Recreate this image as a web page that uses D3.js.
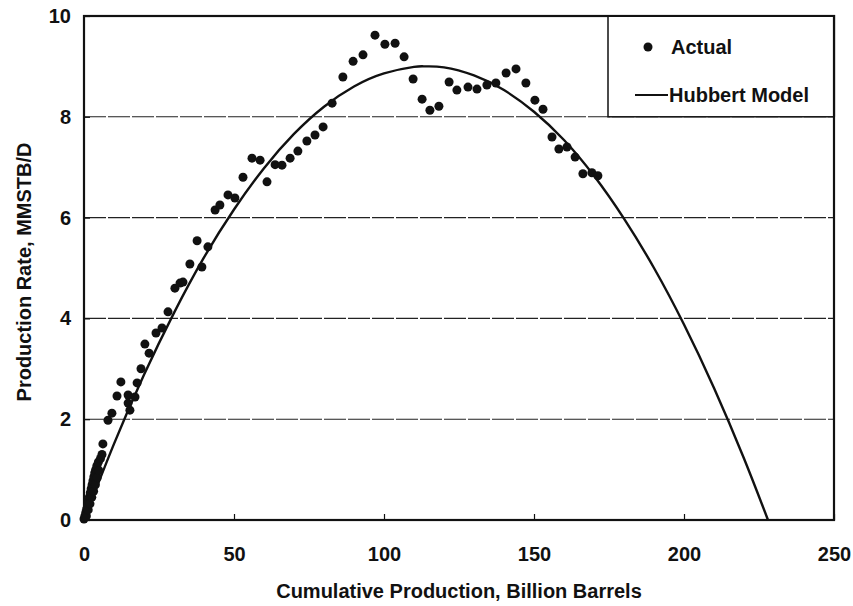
<!DOCTYPE html>
<html>
<head>
<meta charset="utf-8">
<script src="https://cdn.jsdelivr.net/npm/d3@7"></script>
<style>
  html, body { margin: 0; padding: 0; background: #fff; }
  svg { display: block; }
  text { font-family: "Liberation Sans", Arial, Helvetica, sans-serif; font-weight: bold; fill: #111; }
</style>
</head>
<body>
<svg id="chart" width="853" height="606"></svg>
<script>
// Cumulative production (billion barrels) and production rate (MMSTB/D) of the actual history
const actualCumulative = [
  0.0, 0.3, 0.6, 0.9, 1.2, 1.5, 1.8, 2.1, 2.4, 2.7, 3.0, 3.3, 3.6, 3.9, 4.3, 4.8, 5.5, 6.0,
  0.8, 1.4, 2.0, 2.6, 3.2, 3.8, 4.4, 5.0,
  6.3, 8.0, 9.3, 11.0, 12.3, 14.7, 14.7, 15.3, 17.0, 17.7, 19.0, 20.3, 21.7, 24.0, 26.0,
  28.0, 30.3, 32.0, 33.0, 35.3, 37.7, 39.3, 41.3, 43.7, 45.3, 48.0, 50.3, 53.0, 56.0, 58.7,
  61.0, 63.7, 66.0, 68.7, 71.3, 74.3, 77.0, 79.7, 82.7, 86.3, 89.7, 93.0, 97.0, 100.3, 103.7,
  106.7, 109.7, 112.7, 115.3, 118.3, 121.7, 124.3, 128.0, 131.0, 134.3, 137.3, 140.7, 144.0,
  147.3, 150.3, 153.0, 156.0, 158.3, 161.0, 163.7, 166.3, 169.3, 171.3
];
const actualRate = [
  0.02, 0.08, 0.15, 0.22, 0.30, 0.38, 0.46, 0.54, 0.62, 0.70, 0.78, 0.86, 0.94, 1.00, 1.08, 1.15, 1.22, 1.30,
  0.08, 0.20, 0.32, 0.45, 0.57, 0.70, 0.84, 0.98,
  1.51, 1.98, 2.12, 2.46, 2.74, 2.48, 2.32, 2.18, 2.44, 2.72, 3.00, 3.49, 3.31, 3.71, 3.81,
  4.13, 4.60, 4.70, 4.72, 5.08, 5.54, 5.02, 5.42, 6.15, 6.25, 6.45, 6.39, 6.80, 7.18, 7.14,
  6.71, 7.05, 7.04, 7.18, 7.32, 7.52, 7.64, 7.80, 8.27, 8.79, 9.10, 9.23, 9.62, 9.44, 9.46,
  9.19, 8.75, 8.35, 8.13, 8.21, 8.69, 8.53, 8.59, 8.55, 8.63, 8.67, 8.87, 8.95,
  8.67, 8.33, 8.15, 7.60, 7.36, 7.40, 7.20, 6.87, 6.89, 6.83
];

// Hubbert model curve, sampled along cumulative production
const modelCumulative = [0, 10, 20, 30, 40, 50, 60, 70, 80, 90, 100, 110, 114, 120, 130, 140, 150, 160, 170, 180, 190, 200, 210, 220, 228];
const modelRate = [0, 1.51, 2.88, 4.11, 5.21, 6.16, 6.98, 7.66, 8.20, 8.60, 8.86, 8.99, 9.00, 8.98, 8.82, 8.53, 8.10, 7.54, 6.83, 5.98, 5.00, 3.88, 2.62, 1.22, 0];

// Axis ticks and labels
const xTicks = [0, 50, 100, 150, 200, 250];
const yTicks = [0, 2, 4, 6, 8, 10];
const gridLevels = [2, 4, 6, 8];
const xTitle = "Cumulative Production, Billion Barrels";
const yTitle = "Production Rate, MMSTB/D";
const legendLabels = ["Actual", "Hubbert Model"];

const svg = d3.select("#chart");
const plot = { left: 84, right: 834, top: 16, bottom: 520 };

const x = d3.scaleLinear().domain([0, 250]).range([plot.left, plot.right]);
const y = d3.scaleLinear().domain([0, 10]).range([plot.bottom, plot.top]);

// horizontal grid lines
svg.append("g").selectAll("line").data(gridLevels).join("line")
  .attr("x1", plot.left).attr("x2", plot.right)
  .attr("y1", d => y(d)).attr("y2", d => y(d))
  .attr("stroke", "#222").attr("stroke-width", 1.1)
  .attr("stroke-dasharray", "22,2");

// axes with inward ticks
const xAxis = svg.append("g")
  .attr("transform", `translate(0,${plot.bottom})`)
  .call(d3.axisBottom(x).tickValues(xTicks).tickSize(-6).tickPadding(27).tickFormat(d3.format("d")));
const yAxis = svg.append("g")
  .attr("transform", `translate(${plot.left},0)`)
  .call(d3.axisLeft(y).tickValues(yTicks).tickSize(-6).tickPadding(13).tickFormat(d3.format("d")));
[xAxis, yAxis].forEach(g => {
  g.select(".domain").remove();
  g.selectAll(".tick line").attr("stroke", "#111").attr("stroke-width", 1.2);
  g.selectAll(".tick text")
    .attr("font-family", "'Liberation Sans', Arial, sans-serif")
    .attr("font-size", 20).attr("font-weight", "bold").attr("fill", "#111");
});

// plot frame
svg.append("rect")
  .attr("x", plot.left).attr("y", plot.top)
  .attr("width", plot.right - plot.left).attr("height", plot.bottom - plot.top)
  .attr("fill", "none").attr("stroke", "#111").attr("stroke-width", 2.2);

// Hubbert model line
const modelPoints = modelCumulative.map((c, i) => [c, modelRate[i]]);
svg.append("path")
  .datum(modelPoints)
  .attr("fill", "none").attr("stroke", "#111").attr("stroke-width", 2.4)
  .attr("d", d3.line().x(d => x(d[0])).y(d => y(d[1])).curve(d3.curveNatural));

// actual production points
const actualPoints = actualCumulative.map((c, i) => [c, actualRate[i]]);
svg.append("g").selectAll("circle").data(actualPoints).join("circle")
  .attr("cx", d => x(d[0])).attr("cy", d => y(d[1]))
  .attr("r", 4.5).attr("fill", "#111");

// legend box in the top-right corner
const legend = svg.append("g");
legend.append("rect")
  .attr("x", 608).attr("y", plot.top)
  .attr("width", plot.right - 608).attr("height", y(8) - plot.top)
  .attr("fill", "#fff").attr("stroke", "#111").attr("stroke-width", 1.5);
legend.append("circle").attr("cx", 648).attr("cy", 47).attr("r", 4.5).attr("fill", "#111");
legend.append("text").attr("x", 671).attr("y", 54).attr("font-size", 20).text(legendLabels[0]);
legend.append("line").attr("x1", 635).attr("x2", 668).attr("y1", 95).attr("y2", 95)
  .attr("stroke", "#111").attr("stroke-width", 2);
legend.append("text").attr("x", 669).attr("y", 102).attr("font-size", 20).text(legendLabels[1]);
// redraw the frame's top and right edges over the legend
svg.append("path")
  .attr("d", `M608,${plot.top}H${plot.right}V${y(8)}`)
  .attr("fill", "none").attr("stroke", "#111").attr("stroke-width", 2.2);

// axis titles
svg.append("text")
  .attr("x", (plot.left + plot.right) / 2).attr("y", 598)
  .attr("text-anchor", "middle").attr("font-size", 20)
  .text(xTitle);
svg.append("text")
  .attr("transform", "translate(31,272) rotate(-90)")
  .attr("text-anchor", "middle").attr("font-size", 20)
  .text(yTitle);
</script>
</body>
</html>
